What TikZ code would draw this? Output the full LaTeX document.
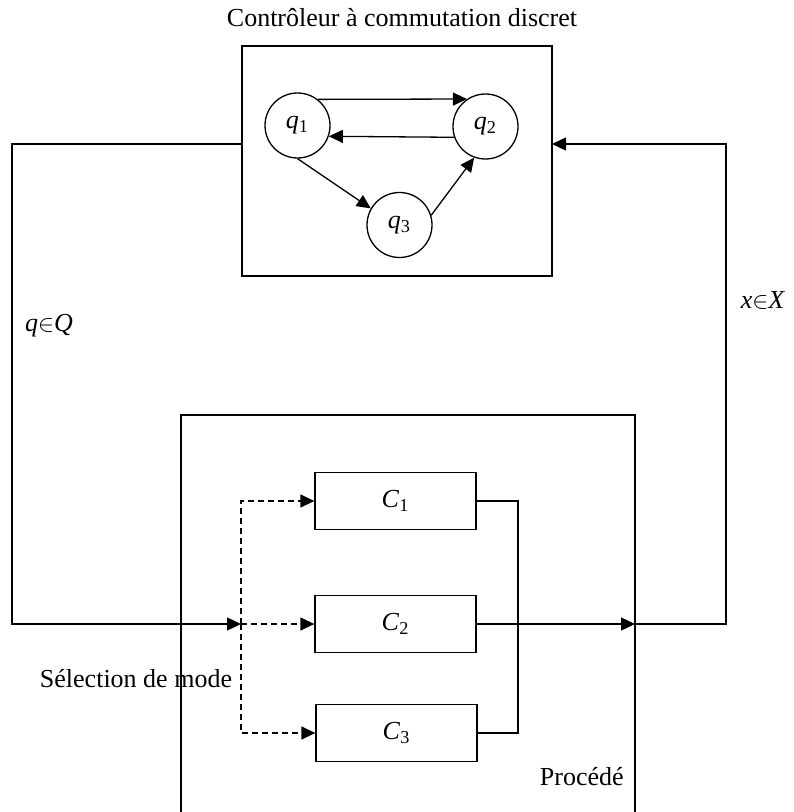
\documentclass[tikz,border=0pt]{standalone}
\usepackage{fontspec}
\setmainfont{Liberation Serif}
\usetikzlibrary{arrows.meta}

\newcommand{\etat}[1]{\textit{q}\textsubscript{#1}}
\newcommand{\cmde}[1]{\textit{C}\textsubscript{#1}}

\begin{document}
\begin{tikzpicture}[x=0.5pt,y=-0.5pt,line width=0.65pt,
    >={Triangle[length=7pt,width=6.5pt]},
    every node/.style={font=\fontsize{13}{15}\selectfont},
    etat/.style={draw,circle,minimum size=32.5pt,inner sep=0pt},
    bloc/.style={draw,minimum width=80.5pt,minimum height=28.5pt,inner sep=0pt},
    pointille/.style={dash pattern=on 3pt off 2pt}]
    \useasboundingbox (0,0) rectangle (793,812);

    \node (titre) at (402,18) {Contrôleur à commutation discret};
    \node[draw,minimum width=155pt,minimum height=115pt,inner sep=0pt] (ctrl) at (397,161) {};
    \node[etat] (q1) at (297.5,125.5) {\etat{1}};
    \node[etat] (q2) at (485.5,126.5) {\etat{2}};
    \node[etat] (q3) at (399.5,225) {\etat{3}};
    \draw[->] (q1.52) -- (q2.124);
    \draw[->] (q2.199) -- (q1.341);
    \draw[->] (q1.270) -- (q3.150);
    \draw[->] (q3.17) -- (q2.250);

    \draw (181,812) |- (635,415) -- (635,812);
    \node[anchor=east] (proc) at (631,777) {Procédé};
    \node[bloc] (C1) at (395.5,501) {\cmde{1}};
    \node[bloc] (C2) at (395.5,624) {\cmde{2}};
    \node[bloc] (C3) at (396.5,733) {\cmde{3}};

    \coordinate (qout) at (242,144);
    \coordinate (coinG) at (12,624);
    \coordinate (sel) at (241,624);
    \coordinate (bus) at (518,560);
    \coordinate (pout) at (635,624);
    \coordinate (coinD) at (726,144);
    \coordinate (xin) at (552,144);

    \draw[->] (qout) -| (coinG) -- (sel);
    \draw[pointille,->] (sel) -- (C2.west);
    \draw[pointille,->] (sel) |- (C1.west);
    \draw[pointille,->] (sel) |- (C3.west);
    \draw (C1.east) -| (bus) |- (C3.east);
    \draw[->] (C2.east) -- (pout);
    \draw[->] (pout) -| (coinD) -- (xin);

    \node (lq) at (49,326) {\textit{q}$\in$\textit{Q}};
    \node (lx) at (763,300) {\textit{x}$\in$\textit{X}};
    \node (mode) at (136,679) {Sélection de mode};
\end{tikzpicture}
\end{document}
